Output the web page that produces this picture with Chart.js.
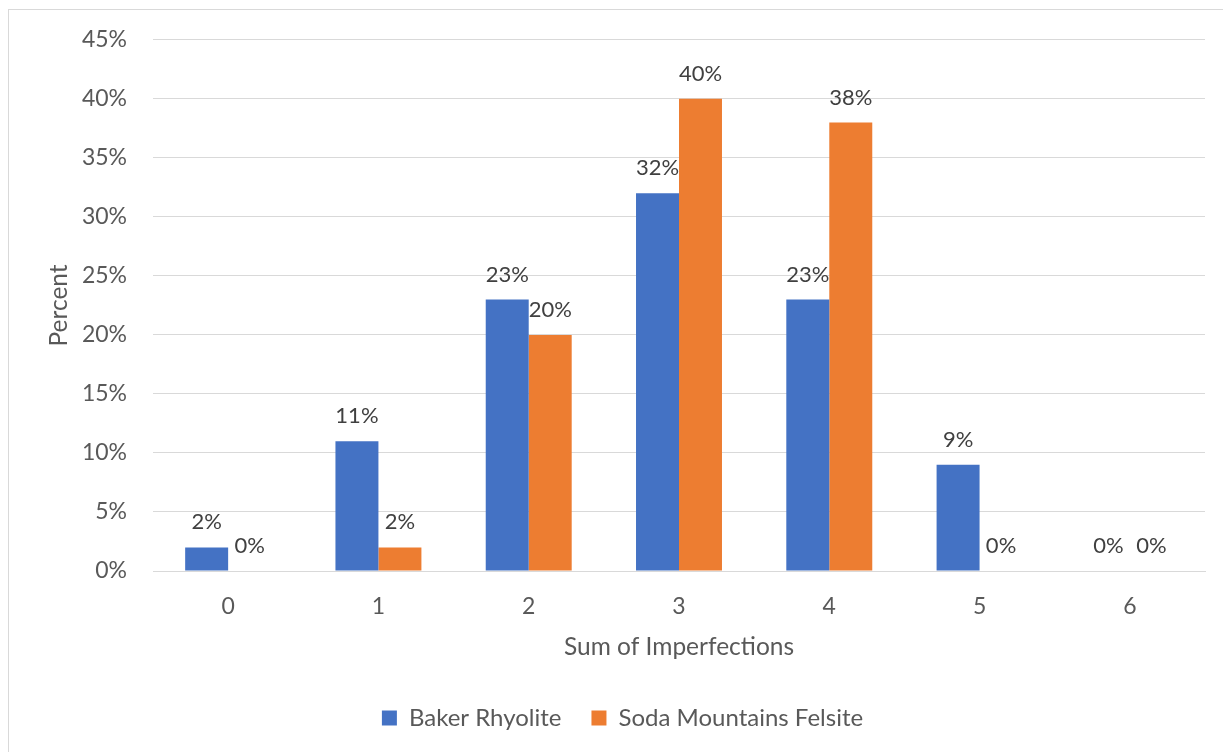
<!DOCTYPE html>
<html>
<head>
<meta charset="utf-8">
<script src="https://cdn.jsdelivr.net/npm/chart.js@4"></script>
<style>
  html, body { margin: 0; padding: 0; background: #fff; }
  #wrap { position: relative; width: 1223px; height: 752px; overflow: hidden; }
  #frame { position: absolute; left: 8px; top: 9px; width: 1240px; height: 780px; border: 1.5px solid #d9d9d9; }
  canvas { position: absolute; left: 0; top: 0; }
</style>
</head>
<body>
<div id="wrap">
  <div id="frame"></div>
  <canvas id="chart" width="1223" height="752"></canvas>
</div>
<script>
const categories = ['0', '1', '2', '3', '4', '5', '6'];
const bakerRhyolite = [2, 11, 23, 32, 23, 9, 0];
const sodaMountains = [0, 2, 20, 40, 38, 0, 0];

const FONT = 'Lato, "Open Sans", sans-serif';

// draws the percentage above each bar
const barLabels = {
    id: 'barLabels',
    afterDatasetsDraw(chart) {
        const ctx = chart.ctx;
        ctx.save();
        ctx.font = '22px ' + FONT;
        ctx.fillStyle = '#404040';
        ctx.textAlign = 'center';
        ctx.textBaseline = 'bottom';
        chart.data.datasets.forEach((ds, i) => {
            chart.getDatasetMeta(i).data.forEach((bar, j) => {
                ctx.fillText(ds.data[j] + '%', bar.x, bar.y - 14);
            });
        });
        ctx.restore();
    }
};

const ctx = document.getElementById('chart').getContext('2d');
new Chart(ctx, {
    type: 'bar',
    data: {
        labels: categories,
        datasets: [{
            label: 'Baker Rhyolite',
            data: bakerRhyolite,
            backgroundColor: '#4472C4'
        }, {
            label: 'Soda Mountains Felsite',
            data: sodaMountains,
            backgroundColor: '#ED7D31'
        }]
    },
    options: {
        responsive: false,
        animation: false,
        categoryPercentage: 0.572,
        barPercentage: 1,
        layout: { padding: { left: 40, right: 18, top: 24, bottom: 12 } },
        plugins: {
            legend: {
                position: 'bottom',
                labels: {
                    font: { family: FONT, size: 24 },
                    color: '#595959',
                    boxWidth: 15,
                    boxHeight: 15,
                    padding: 30
                }
            },
            tooltip: { enabled: false }
        },
        scales: {
            x: {
                grid: { display: false, drawTicks: false },
                border: { color: '#d9d9d9' },
                ticks: { font: { family: FONT, size: 23 }, color: '#595959', padding: 22 },
                title: {
                    display: true,
                    text: 'Sum of Imperfections',
                    font: { family: FONT, size: 24.5 },
                    color: '#595959',
                    padding: { top: -10, bottom: 14 }
                }
            },
            y: {
                min: 0,
                max: 45,
                afterFit: scale => { scale.width = 113; },
                ticks: {
                    stepSize: 5,
                    font: { family: FONT, size: 23 },
                    color: '#595959',
                    padding: 26,
                    callback: v => v + '%'
                },
                grid: { color: '#d9d9d9', drawTicks: false },
                border: { display: false },
                title: {
                    display: true,
                    text: 'Percent',
                    font: { family: FONT, size: 24.5 },
                    color: '#595959',
                    padding: { top: 4, bottom: 0 }
                }
            }
        }
    },
    plugins: [barLabels]
});
</script>
</body>
</html>
